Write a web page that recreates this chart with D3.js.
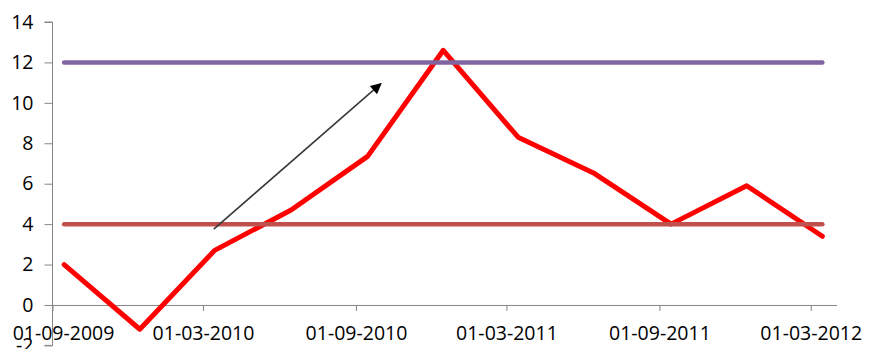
<!DOCTYPE html>
<html>
<head>
<meta charset="utf-8">
<script src="https://cdn.jsdelivr.net/npm/d3@7/dist/d3.min.js"></script>
<style>
  html, body { margin: 0; padding: 0; background: #fff; }
  svg { display: block; }
  text { font-family: "Open Sans", "Liberation Sans", sans-serif; fill: #000; }
</style>
</head>
<body>
<svg id="chart" width="872" height="349"></svg>
<script>
// Quarterly observations (mid-month)
const dates = ["2009-09-15", "2009-12-15", "2010-03-15", "2010-06-15", "2010-09-15",
               "2010-12-15", "2011-03-15", "2011-06-15", "2011-09-15", "2011-12-15", "2012-03-15"];
const values = [2.0, -1.2, 2.7, 4.7, 7.35, 12.6, 8.3, 6.5, 4.0, 5.9, 3.4];
// Reference levels drawn across the same dates
const upperLevel = 12;
const lowerLevel = 4;
// Axis ticks
const xTickDates = ["2009-09-01", "2010-03-01", "2010-09-01", "2011-03-01", "2011-09-01", "2012-03-01"];
const yTicks = [-2, 0, 2, 4, 6, 8, 10, 12, 14];
// Trend arrow, in data units
const arrowFrom = { date: "2010-03-14", value: 3.75 };
const arrowTo = { date: "2010-10-01", value: 10.95 };

const parse = d3.utcParse("%Y-%m-%d");
const fmt = d3.utcFormat("%d-%m-%Y");

const svg = d3.select("#chart");

const x = d3.scaleUtc()
  .domain([parse("2009-09-01"), parse("2012-04-01")])
  .range([52.5, 836.5]);
const y = d3.scaleLinear()
  .domain([-2, 14])
  .range([345.4, 22]);

const axisColor = "#868686";
const fontSize = "19.5px";

// Y axis
const yAxis = svg.append("g")
  .attr("transform", `translate(${x.range()[0]},0)`)
  .call(d3.axisLeft(y).tickValues(yTicks).tickSize(8).tickPadding(11).tickFormat(d => String(d)));
yAxis.select(".domain").attr("stroke", axisColor).attr("d", `M-8,${y(14)}H0V${y(-2)}H-8`);
yAxis.selectAll(".tick line").attr("stroke", axisColor);
yAxis.selectAll(".tick text").attr("font-size", fontSize).attr("font-family", null);

// X axis at zero
const xAxis = svg.append("g")
  .attr("transform", `translate(0,${y(0)})`)
  .call(d3.axisBottom(x).tickValues(xTickDates.map(parse)).tickSize(6).tickSizeOuter(0).tickPadding(15).tickFormat(fmt));
xAxis.select(".domain").attr("stroke", axisColor);
xAxis.selectAll(".tick line").attr("stroke", axisColor);
xAxis.selectAll(".tick text")
  .attr("font-size", fontSize).attr("font-family", null)
  .attr("dx", (d, i) => i === 0 ? 10.5 : 0);

const pts = dates.map((d, i) => ({ date: parse(d), value: values[i] }));

// Main series
svg.append("path")
  .datum(pts)
  .attr("fill", "none")
  .attr("stroke", "#FF0000")
  .attr("stroke-width", 5)
  .attr("stroke-linejoin", "round")
  .attr("stroke-linecap", "round")
  .attr("d", d3.line().x(d => x(d.date)).y(d => y(d.value)));

// Reference levels
const levelLine = lvl => d3.line().x(d => x(d.date)).y(() => y(lvl));
svg.append("path")
  .datum(pts)
  .attr("fill", "none")
  .attr("stroke", "#C0504D")
  .attr("stroke-width", 4.5)
  .attr("stroke-linecap", "round")
  .attr("d", levelLine(lowerLevel));
svg.append("path")
  .datum(pts)
  .attr("fill", "none")
  .attr("stroke", "#8064A2")
  .attr("stroke-width", 4.5)
  .attr("stroke-linecap", "round")
  .attr("d", levelLine(upperLevel));

// Trend arrow
svg.append("defs").append("marker")
  .attr("id", "arrowhead")
  .attr("viewBox", "0 0 10 10")
  .attr("refX", 9).attr("refY", 5)
  .attr("markerWidth", 13).attr("markerHeight", 11)
  .attr("markerUnits", "userSpaceOnUse")
  .attr("orient", "auto")
  .append("path")
  .attr("d", "M0,0L10,5L0,10z")
  .attr("fill", "#000");
svg.append("line")
  .attr("x1", x(parse(arrowFrom.date))).attr("y1", y(arrowFrom.value))
  .attr("x2", x(parse(arrowTo.date))).attr("y2", y(arrowTo.value))
  .attr("stroke", "#3a3a3a")
  .attr("stroke-width", 1.6)
  .attr("marker-end", "url(#arrowhead)");
</script>
</body>
</html>
